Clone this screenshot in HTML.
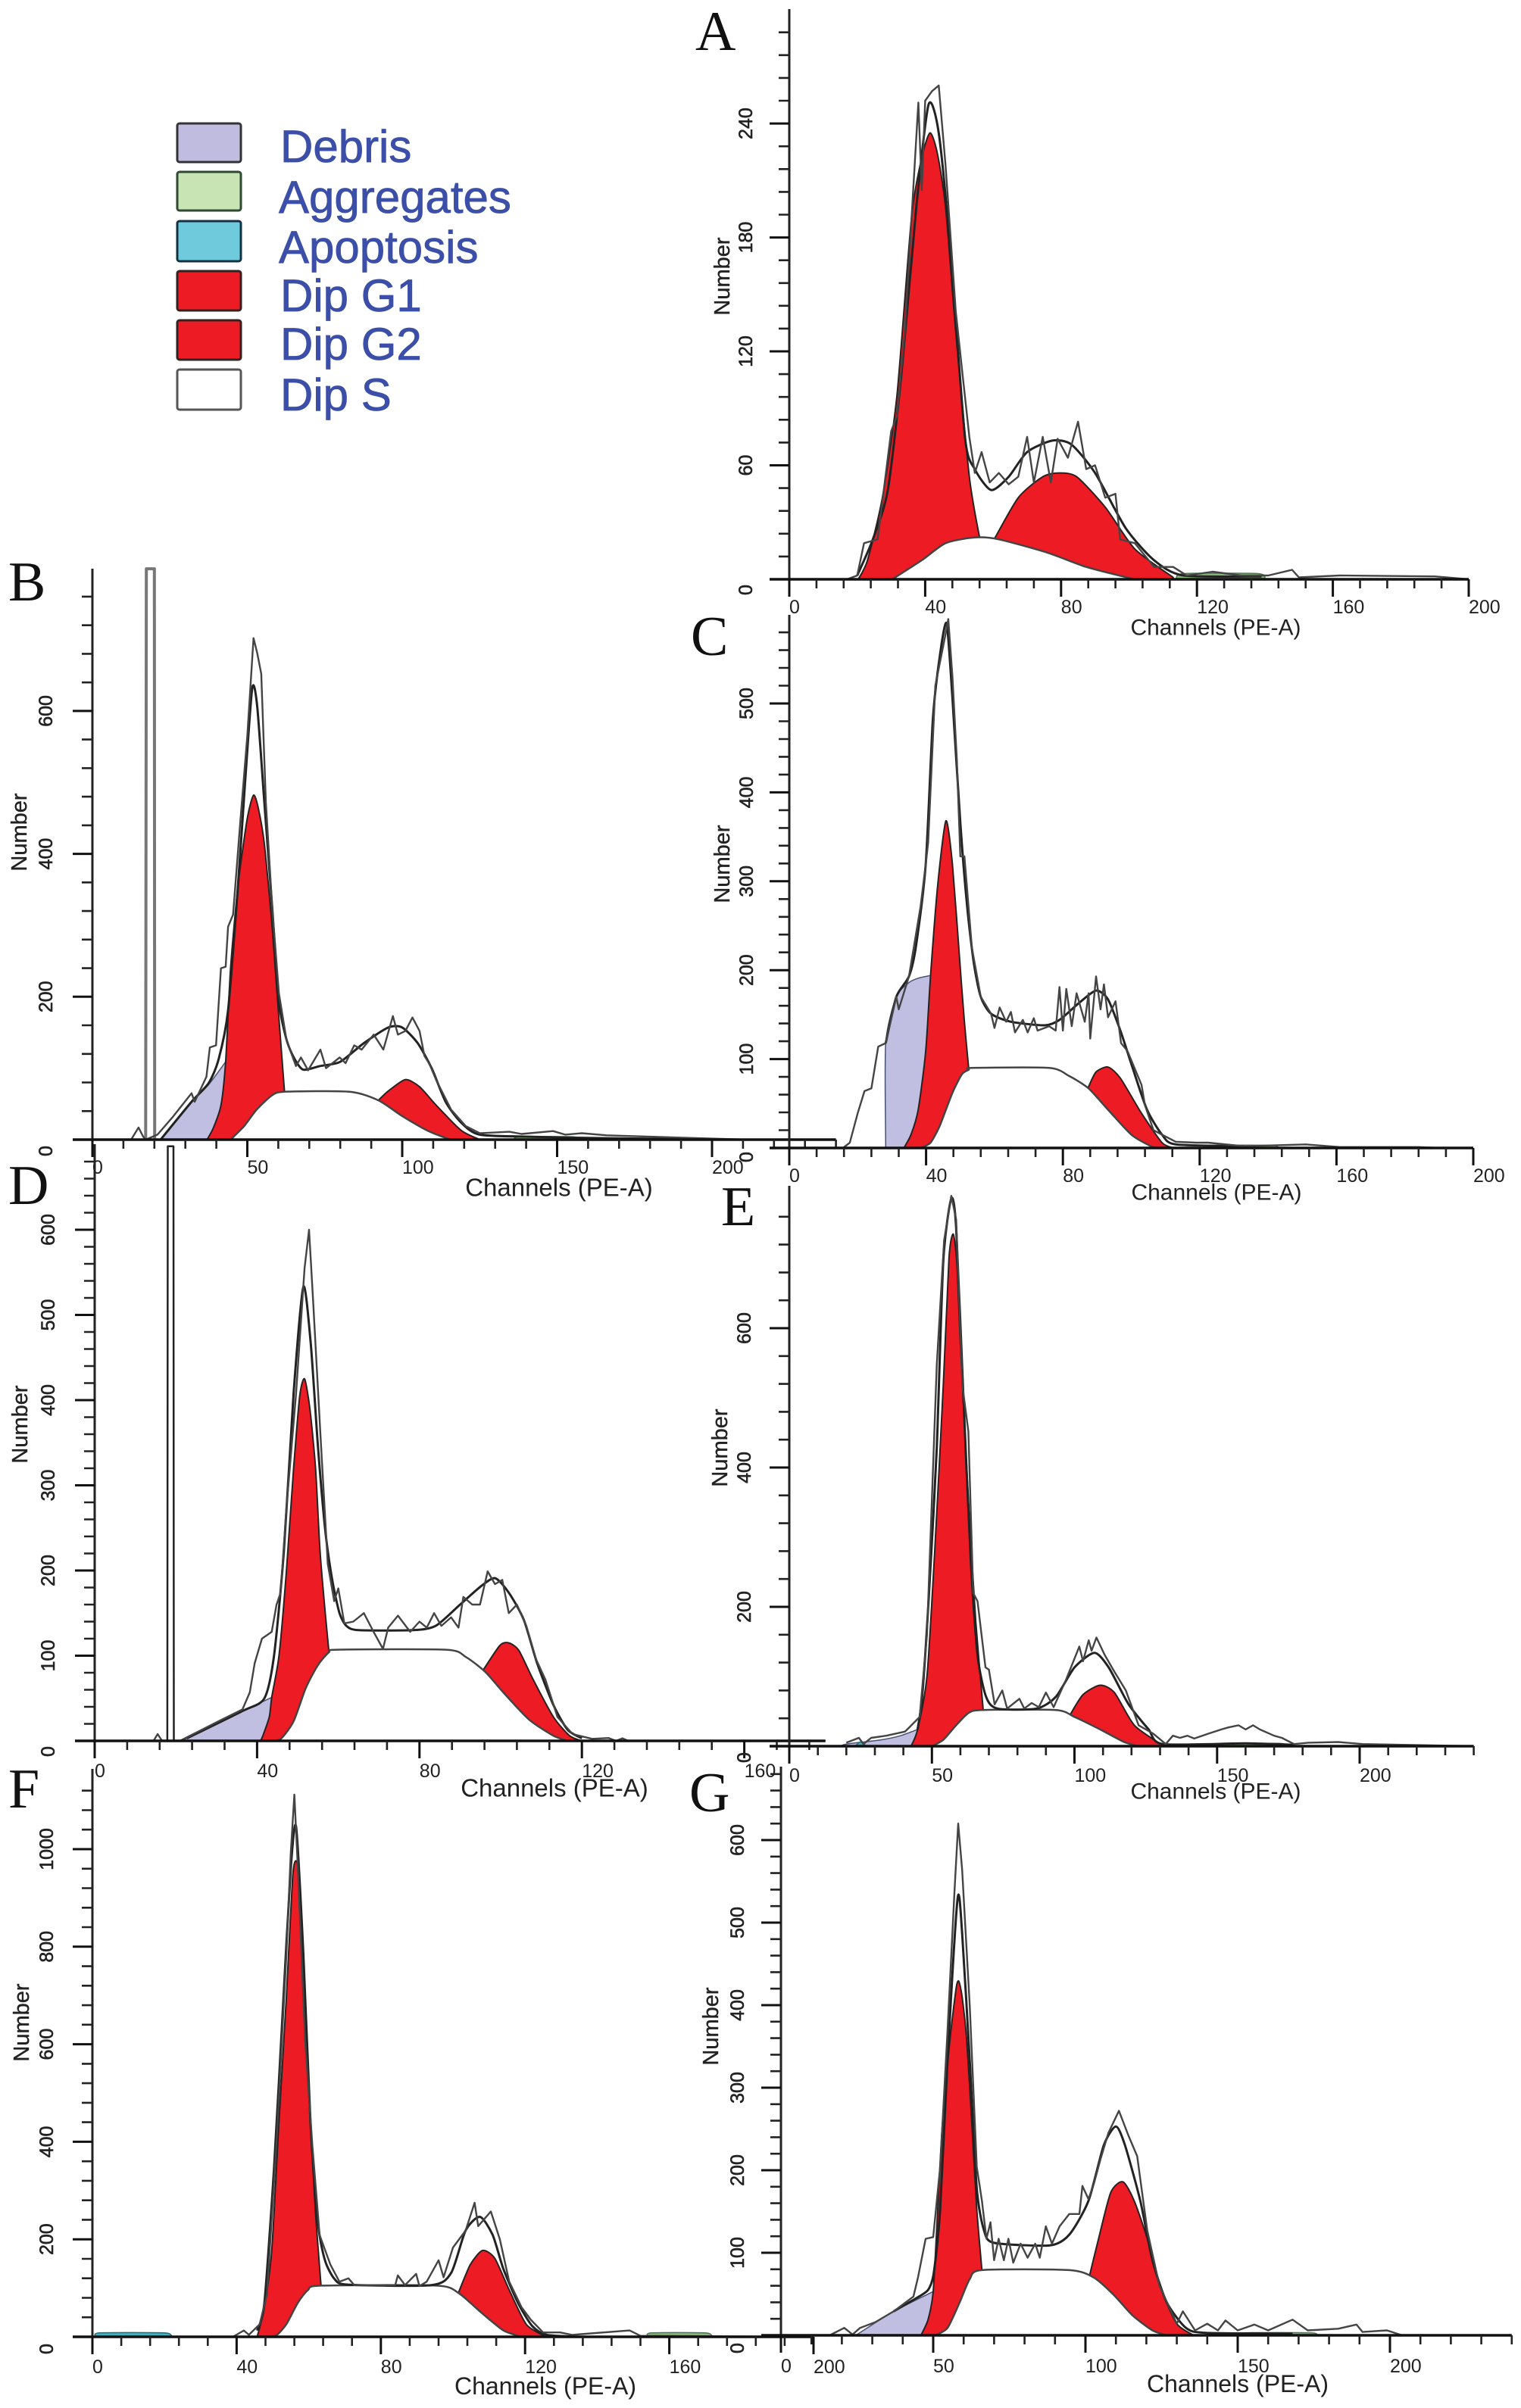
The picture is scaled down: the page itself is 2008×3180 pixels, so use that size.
<!DOCTYPE html>
<html lang="en">
<head>
<meta charset="utf-8">
<title>Cell cycle DNA histograms</title>
<style>
html,body{margin:0;padding:0;background:#fff;}
svg{display:block;}
text{font-family:"Liberation Sans",sans-serif;fill:#222;}
.letter{font-family:"Liberation Serif",serif;fill:#111;font-size:74px;}
.legend-text{fill:#3c4fa8;font-size:60px;stroke:#3c4fa8;stroke-width:.8px;}
.ctitle{font-size:30px;text-anchor:middle;dominant-baseline:central;}
.ntitle{font-size:29px;text-anchor:middle;dominant-baseline:central;stroke:#222;stroke-width:.4px;}
.tick{font-size:25px;dominant-baseline:central;}
.ytick{font-size:25px;text-anchor:middle;dominant-baseline:central;stroke:#222;stroke-width:.6px;}
</style>
</head>
<body>
<svg id="figure" xmlns="http://www.w3.org/2000/svg" width="2008" height="3180" viewBox="0 0 2008 3180">
  <rect width="2008" height="3180" fill="#fff"/>
  <g>
    <rect x="234" y="163" width="84" height="51" rx="3" fill="#bfbce0" stroke="#333" stroke-width="3"/>
    <rect x="234" y="227" width="84" height="51" rx="3" fill="#c8e3b4" stroke="#2f4a33" stroke-width="3"/>
    <rect x="234" y="292" width="84" height="53" rx="3" fill="#6fcbdc" stroke="#134" stroke-width="3"/>
    <rect x="234" y="358" width="84" height="52" rx="3" fill="#ed1c24" stroke="#322" stroke-width="3"/>
    <rect x="234" y="423" width="84" height="52" rx="3" fill="#ed1c24" stroke="#322" stroke-width="3"/>
    <rect x="234" y="488" width="84" height="53" rx="3" fill="#fff" stroke="#555" stroke-width="3"/>
    <text class="legend-text" x="370" y="214">Debris</text>
    <text class="legend-text" x="368" y="281">Aggregates</text>
    <text class="legend-text" x="368" y="347">Apoptosis</text>
    <text class="legend-text" x="370" y="411">Dip G1</text>
    <text class="legend-text" x="370" y="475">Dip G2</text>
    <text class="legend-text" x="370" y="542">Dip S</text>
  </g>
  <g>
    <text class="letter" x="918" y="66">A</text>
    <text class="letter" x="11" y="793">B</text>
    <text class="letter" x="912" y="865">C</text>
    <text class="letter" x="11" y="1590">D</text>
    <text class="letter" x="952" y="1618">E</text>
    <text class="letter" x="11" y="2387">F</text>
    <text class="letter" x="910" y="2392">G</text>
  </g>
  <g id="charts"></g>
  <g>
    <text class="ctitle" x="1605" y="829" style="font-size:30px">Channels (PE-A)</text>
    <text class="ctitle" x="738" y="1568" style="font-size:33px">Channels (PE-A)</text>
    <text class="ctitle" x="1606" y="1575" style="font-size:30px">Channels (PE-A)</text>
    <text class="ctitle" x="732" y="2361" style="font-size:33px">Channels (PE-A)</text>
    <text class="ctitle" x="1605" y="2366" style="font-size:30px">Channels (PE-A)</text>
    <text class="ctitle" x="720" y="3151" style="font-size:32px">Channels (PE-A)</text>
    <text class="ctitle" x="1634" y="3148" style="font-size:32px">Channels (PE-A)</text>
    <text class="ntitle" transform="translate(954 365) rotate(-90)">Number</text>
    <text class="ntitle" transform="translate(26 1099) rotate(-90)">Number</text>
    <text class="ntitle" transform="translate(954 1141) rotate(-90)">Number</text>
    <text class="ntitle" transform="translate(27 1881) rotate(-90)">Number</text>
    <text class="ntitle" transform="translate(951 1912) rotate(-90)">Number</text>
    <text class="ntitle" transform="translate(29 2671) rotate(-90)">Number</text>
    <text class="ntitle" transform="translate(939 2676) rotate(-90)">Number</text>
  </g>
</svg>
<script>
// ---- Panel A data: [channel, count] ----
const panelA_xTicks = [0,40,80,120,160,200];
const panelA_yTicks = [0,60,120,180,240];
const panelA_g1 = [[20.3,0],[23,10],[27.4,43],[31.7,97],[36,191],[39,222],[41.4,235],[43.5,225],[46,196],[49,130],[53,54],[56,22]];
const panelA_g2 = [[60.3,21],[67.4,43],[74.6,54],[79.4,56],[84.6,54],[93,38],[101.7,16],[113,1]];
const panelA_s = [[30.3,0],[39,10],[46,19],[54.6,22],[61.7,21],[76,14],[87.4,6.5],[100,0.7],[102,0]];
const panelA_aggregates = [[114,0],[116,3],[138,3],[140,0]];
const panelA_fit = [[20,2],[24.6,21],[29,47],[33,108],[37.4,196],[41,250],[44,235],[47.4,174],[51.7,75],[54.6,58],[59.4,47],[64.6,54],[70,67],[77.4,73],[83,71],[90,56],[99,27],[107.4,10],[116,2],[139,1.5]];
const panelA_raw = [[17,0],[20,2],[22,19],[26,21],[30,78],[31.7,86],[34,130],[38,251],[39,205],[40,252],[42,257],[44,260],[46,218],[49,141],[51,108],[53,75],[54.6,56],[56.6,67],[59,51],[61.7,56],[64.6,50],[67.4,54],[70,75],[72,51],[74.6,75],[77,51],[79,74],[82,64],[85,83],[87.4,58],[90,60],[93,43],[96,45],[97.4,21],[101.7,19],[107.4,6.5],[113,6.5],[117,2],[124.6,4],[133,2],[141,2],[148,5],[150,1],[162,2],[190,1.5],[200,0]];

// ---- Panel B data ----
const panelB_xTicks = [0,50,100,150,200];
const panelB_yTicks = [0,200,400,600];
const panelB_debris = [[22,0],[26,22],[32,53],[37.5,77],[43,109]];
const panelB_g1 = [[37,0],[39,16],[41.5,48],[43,109],[44.6,240],[47,356],[50,450],[52,482],[53.5,465],[55.5,414],[58,298],[59.5,210],[62,67]];
const panelB_g2 = [[92.3,55],[95.5,68],[101,84],[105.6,74],[111,48],[119,13],[125,0]];
const panelB_s = [[44.6,0],[49,19],[53,42],[58,62],[62,67],[83,67],[92.3,55],[100,33],[108,13],[115,1],[118,0]];
const panelB_aggregates = [[136,0],[138,4],[155,4],[157,0]];
const panelB_gate = [[17.2,0],[17.4,799],[20,799],[20.1,0]];
const panelB_fit = [[22,0],[32,53],[37.5,79],[40.7,112],[43.8,181],[47,356],[49.3,501],[51.6,632],[53.2,606],[55.5,472],[58,327],[60.2,193],[62.6,141],[65,115],[68,98],[73.5,103],[80,109],[87.6,135],[95.5,157],[100,157],[105,135],[109.5,100],[114,53],[119,24],[125,7],[142,4],[166,2],[190,1]];
const panelB_raw = [[12.5,0],[14.9,17],[16.4,4],[17.2,0],[21,7],[26,32],[32,65],[33,53],[36.8,88],[37.9,129],[39.9,132],[41.5,240],[43,242],[43.8,298],[45.4,315],[47.7,443],[50,565],[52,702],[53.2,681],[54.5,652],[56,472],[58,327],[60.2,205],[62.6,141],[64,123],[65.7,103],[67.3,115],[69.6,97],[73.6,126],[75.4,100],[79.8,115],[81.7,107],[84.5,132],[86.9,126],[90.8,147],[93.9,126],[97,173],[98.6,147],[101,152],[103.3,171],[105.6,152],[107.2,117],[108.8,106],[111,83],[115.8,42],[120.5,19],[125,9],[134.6,11],[138.5,8],[148.7,12],[152.6,7],[158,9],[166,6],[195.6,2],[211,0]];

// ---- Panel C data ----
const panelC_xTicks = [0,40,80,120,160,200];
const panelC_yTicks = [0,100,200,300,400,500];
const panelC_debris = [[28.2,0],[28.2,118],[31.3,170],[35,186],[37.7,191],[41.3,194]];
const panelC_g1 = [[33.5,0],[35.6,15],[37.7,43],[39.9,109],[41.3,194],[43.4,296],[45.8,368],[47.7,319],[50,202],[51.2,142],[52.5,88]];
const panelC_g2 = [[87.5,69],[89.7,85.5],[93.2,91],[96.8,78.5],[103,39],[109,6],[112.5,0]];
const panelC_s = [[38.4,0],[41.3,6],[44,25],[47.7,62],[50.5,83],[52.5,88],[53.4,90],[76,90],[81.8,81],[87.5,67],[93.2,43],[100,15],[106,1.5],[108,0]];
const panelC_aggregates = [[121,0],[123,3],[141,3],[143,0]];
const panelC_fit = [[28.2,118],[31.3,170],[35,193],[37,226],[39.9,319],[42,483],[44,553],[46,590],[47.7,506],[50,366],[52,272],[54,207],[56,170],[59,151],[64.8,142],[74.7,138],[79,144],[84.7,163],[89.7,177],[93.2,167],[96.8,132],[100.4,90],[104.6,43],[109,15],[113,4],[133,2]];
const panelC_raw = [[15.7,0],[17.7,6],[20,39],[22,64],[24,67],[26,114],[28.2,118],[31.3,170],[32,156],[35,193],[38.4,272],[39.9,319],[40.6,343],[42.7,520],[45.5,574],[46.5,595],[47.7,530],[49,437],[50,328],[51.2,328],[53.4,225],[56,170],[59,151],[60,135],[61.5,158],[63.4,142],[64.8,153],[66,130],[68.3,144],[69.7,130],[71.5,146],[72.6,132],[76,137],[77.9,132],[79,181],[80,132],[81,179],[82.6,137],[84,174],[86.4,142],[87.5,174],[88,123],[89.7,193],[91,156],[92,184],[93.2,147],[95.4,165],[97,118],[98.9,109],[100.4,95],[103,71],[104,48],[106.5,20],[109,15],[113,7],[119,6],[122.5,6],[133,2],[151,4],[161,1],[184,1],[190,0]];

// ---- Panel D data ----
const panelD_xTicks = [0,40,80,120,160];
const panelD_yTicks = [0,100,200,300,400,500,600];
const panelD_debris = [[21,0],[22.7,3],[30.5,23],[36.4,35],[43.6,51]];
const panelD_g1 = [[40.6,0],[41.2,3.4],[43,28],[43.6,51],[45.4,100],[47.2,198],[49,320],[50.5,405],[51.7,425],[53,390],[54.4,320],[55.5,223],[56.8,150],[57.7,104]];
const panelD_g2 = [[95.8,84],[99.8,112],[102,115],[104.5,106],[108,72],[113,28],[117,6],[120,0]];
const panelD_s = [[44,0],[46,3],[49,23],[52,62],[55,89],[57.7,104],[59.7,107],[86.6,107],[91.4,98.5],[96.2,81],[101,55],[107,25],[113,6],[116.5,0]];
const panelD_gate = [[17.9,0],[18,698],[19.4,698],[19.5,0]];
const panelD_fit = [[22.7,3],[36.4,35],[41.8,50],[44.2,101],[46.6,223],[49,408],[51.4,533],[53.2,467],[55,345],[56.8,247],[58.5,189],[60.3,150],[62,135],[65,130],[78.3,130],[84,135],[90,160],[95,181],[98.6,191],[102,174],[105.7,142],[109,91],[113,42],[116.5,13],[120,3]];
const panelD_raw = [[14.5,0],[15.5,8],[16.6,0],[21,0],[30.5,23],[36.4,37],[38.2,57],[39.4,91],[41.2,120],[43.6,128],[44.8,160],[45.8,174],[47.2,272],[49.6,408],[51.7,555],[52.8,600],[53.8,516],[55.6,360],[57.4,208],[59,164],[60,179],[61.5,138],[63.7,140],[66.3,150],[68.7,128],[71,108],[72.3,133],[74.7,147],[77.7,128],[80,140],[81.8,133],[83.6,150],[85.4,135],[87.8,145],[89.6,133],[90.8,169],[93,160],[94.9,160],[96.8,199],[98.6,184],[100.4,189],[102,150],[104,160],[106.3,135],[108.7,96],[111,72],[114,28],[117.7,8],[122.5,2.4],[126.6,3.4],[128.4,0],[130,3],[131.4,0]];

// ---- Panel E data ----
const panelE_xTicks = [0,50,100,150,200];
const panelE_yTicks = [0,200,400,600];
const panelE_debris = [[18,0],[20,3],[32,9],[39,15],[45,24]];
const panelE_apoptosis = [[23,0],[25,6],[27,0]];
const panelE_g1 = [[42.7,0],[45,24],[48.3,101],[51,280],[54,518],[56,700],[57.5,735],[58.8,690],[60,577],[63,339],[65.4,179],[68,52]];
const panelE_g2 = [[98.6,46],[103,74],[109,87.5],[114,77],[121,30],[131,1]];
const panelE_s = [[50,0],[54,9],[58.5,30],[63,48],[68,52],[93.5,52],[100,42],[109,24],[117.4,6],[122.5,0]];
const panelE_aggregates = [[150,0],[152,3],[172,4],[175,0]];
const panelE_fit = [[45,24],[46.6,71],[49,220],[51.7,428],[54,696],[56.8,786],[58.5,744],[61,506],[63.6,268],[66,131],[69,71],[73,54],[86.7,54],[93.5,71],[100,113],[107,134],[112,113],[119,60],[126,24],[131,3],[160,4],[177,2]];
const panelE_raw = [[20,5],[24.4,12],[26,3],[28.7,12],[34,15],[40.6,21],[45.7,42],[48.3,160],[51.7,547],[54.3,726],[56.8,790],[58.5,756],[60.7,518],[62.8,452],[64.5,220],[66,208],[68.8,113],[70,110],[72,60],[74.7,80],[76.4,54],[80.7,68],[82.4,54],[85,62],[87.5,56],[90,77],[92.7,56],[97,95],[101.7,143],[103,122],[105,152],[106,137],[107.7,156],[110.6,131],[114,107],[118,80],[122.5,30],[127.6,18],[132,3],[134.5,15],[137,12],[139.6,15],[142,11],[147,18],[151.5,24],[154,27],[157.5,30],[160,24],[162.6,30],[165,24],[170,15],[172.7,12],[177,3],[182,5],[192.5,6],[201,3],[240,0]];

// ---- Panel F data ----
const panelF_xTicks = [0,40,80,120,160,200];
const panelF_yTicks = [0,200,400,600,800,1000];
const panelF_apoptosis = [[1,0],[2,8],[20,8],[22,0]];
const panelF_g1 = [[45.7,0],[47.7,61],[49.7,174],[51.7,436],[53.8,697],[55.5,940],[56.5,976],[57.5,930],[58.5,697],[60.5,436],[61.8,262],[63.4,105]];
const panelF_g2 = [[101.5,90],[104.8,148],[108.2,177],[111.6,161],[115.6,96],[120.3,26],[125,3],[126,0]];
const panelF_s = [[48.4,0],[51,3],[53.8,26],[57,70],[59.8,96],[63.4,105],[95.4,105],[101.5,90],[107.5,52],[114,13],[119,0]];
const panelF_aggregates = [[154,0],[155,8],[170,8],[172,0]];
const panelF_fit = [[45.7,13],[47.7,70],[50.4,349],[53,697],[55,959],[56.5,1046],[58.5,785],[60.5,436],[62.5,235],[64.5,157],[67.2,118],[71,107],[94,106],[99.5,131],[103.5,218],[107.5,246],[111,209],[114,139],[118,70],[122,22],[126,4],[135,0]];
const panelF_raw = [[39,0],[42,13],[43.4,4],[46.4,26],[48.4,87],[51,392],[53.8,785],[55,990],[56,1112],[57,959],[59,610],[61,392],[63,209],[66,148],[68.5,113],[71,120],[72.6,106],[84,106],[84.7,126],[86.7,106],[89.8,129],[90.7,104],[92.7,113],[96,157],[97.4,122],[100,183],[103.5,218],[106,275],[107,227],[110.5,257],[113,200],[115.6,113],[119,61],[121.6,35],[125,9],[129.7,9],[133,4],[149,13],[152,2],[200,0]];

// ---- Panel G data ----
const panelG_xTicks = [0,50,100,150,200];
const panelG_yTicks = [0,100,200,300,400,500,600];
const panelG_debris = [[24,0],[25,1],[37,29],[50,53]];
const panelG_g1 = [[46,0],[48.3,19],[50,53],[51.5,153],[53,255],[55.5,358],[57.5,420],[58.4,429],[59.5,410],[61,358],[62.7,255],[64.3,153],[66,79]];
const panelG_g2 = [[101.4,73],[104.3,117],[108.3,173],[112.3,186],[116,163],[120.3,117],[125,55],[130,14],[135.5,0]];
const panelG_s = [[50.7,0],[54.7,9],[58.7,40],[62,68],[66,79],[94.7,79],[102.7,70],[109,50],[115.5,24],[122,6],[126.7,0]];
const panelG_aggregates = [[150,0],[152,3],[174,3],[176,0]];
const panelG_fit = [[37,29],[44,44],[48.3,55],[50.2,76],[52.3,153],[54.7,333],[58,529],[59.5,487],[62,333],[64.3,178],[66.7,127],[70,112],[88.3,109],[94.7,122],[101,163],[106,230],[110,253],[113,230],[118,163],[122,91],[126.7,40],[133,9],[139.5,3],[168,2]];
const panelG_raw = [[16,0],[20.8,9],[23.5,1],[26,9],[31,16],[37,29],[43.5,47],[45,70],[47.5,117],[50,119],[52.3,204],[54.7,369],[57,538],[58.2,620],[59.5,564],[62,400],[64.3,204],[66,163],[67.5,117],[68.8,137],[70,91],[71.5,117],[73.2,91],[74.7,117],[76.3,88],[78.7,111],[81,94],[83.5,111],[85,94],[87,132],[89,111],[91.5,132],[94.7,147],[98,147],[99,181],[101,165],[102.7,183],[105,214],[107.5,245],[111,272],[114,243],[117,217],[120.3,127],[124.3,60],[127.5,34],[130,14],[132,29],[136,6],[140,14],[143.5,6],[146,18],[150,6],[155.5,13],[160,6],[168,19],[173,6],[183,8],[189,13],[191,4],[199,6],[204,0]];

// ---- Layout (axis geometry only) ----
const layout = [
 {id:'a',x0:1042,y0:765,pxCh:4.485,pxCnt:2.508,xMax:200,xMajor:40,xMinor:8,yMajor:60,yMinor:12,top:12,yLabelX:985,xLabelY:802,zeroDy:14,xT:panelA_xTicks,yT:panelA_yTicks,g1:panelA_g1,g2:panelA_g2,s:panelA_s,aggregates:panelA_aggregates,fit:panelA_fit,raw:panelA_raw},
 {id:'b',x0:122,y0:1505,pxCh:4.09,pxCnt:.9435,xMax:240,xMajor:50,xMinor:10,yMajor:200,yMinor:40,top:751,yLabelX:61,xLabelY:1542,zeroDy:15,xT:panelB_xTicks,yT:panelB_yTicks,debris:panelB_debris,g1:panelB_g1,g2:panelB_g2,s:panelB_s,aggregates:panelB_aggregates,gate:panelB_gate,gateColor:'#777',gateWidth:4,fit:panelB_fit,raw:panelB_raw},
 {id:'c',x0:1042,y0:1516,pxCh:4.515,pxCnt:1.174,xMax:200,xMajor:40,xMinor:8,yMajor:100,yMinor:20,top:812,yLabelX:986,xLabelY:1553,zeroDy:12,xT:panelC_xTicks,yT:panelC_yTicks,debris:panelC_debris,g1:panelC_g1,g2:panelC_g2,s:panelC_s,aggregates:panelC_aggregates,fit:panelC_fit,raw:panelC_raw},
 {id:'d',x0:125,y0:2299,pxCh:5.36,pxCnt:1.125,xMax:180,xMajor:40,xMinor:8,yMajor:100,yMinor:20,top:1511,yLabelX:64,xLabelY:2339,zeroDy:14,xT:panelD_xTicks,yT:panelD_yTicks,debris:panelD_debris,g1:panelD_g1,g2:panelD_g2,s:panelD_s,gate:panelD_gate,gateColor:'#222',gateWidth:2.5,fit:panelD_fit,raw:panelD_raw},
 {id:'e',x0:1042,y0:2306,pxCh:3.765,pxCnt:.92,xMax:240,xMajor:50,xMinor:10,yMajor:200,yMinor:40,top:1566,yLabelX:983,xLabelY:2345,zeroDy:15,xT:panelE_xTicks,yT:panelE_yTicks,debris:panelE_debris,apoptosis:panelE_apoptosis,g1:panelE_g1,g2:panelE_g2,s:panelE_s,aggregates:panelE_aggregates,fit:panelE_fit,raw:panelE_raw},
 {id:'f',x0:122,y0:3086,pxCh:4.76,pxCnt:.644,xMax:200,xMajor:40,xMinor:8,yMajor:200,yMinor:40,top:2336,yLabelX:62,xLabelY:3126,zeroDy:16,xT:panelF_xTicks,yT:panelF_yTicks,apoptosis:panelF_apoptosis,g1:panelF_g1,g2:panelF_g2,s:panelF_s,aggregates:panelF_aggregates,fit:panelF_fit,raw:panelF_raw},
 {id:'g',x0:1031,y0:3084,pxCh:4.02,pxCnt:1.09,xMax:240,xMajor:50,xMinor:10,yMajor:100,yMinor:20,top:2333,yLabelX:974,xLabelY:3125,zeroDy:17,xT:panelG_xTicks,yT:panelG_yTicks,debris:panelG_debris,g1:panelG_g1,g2:panelG_g2,s:panelG_s,aggregates:panelG_aggregates,fit:panelG_fit,raw:panelG_raw}
];
const NS = 'http://www.w3.org/2000/svg';
const root = document.getElementById('charts');

function polyPath(pts, sx, sy){
  return pts.map((p,i)=>(i?'L':'M')+sx(p[0]).toFixed(1)+' '+sy(p[1]).toFixed(1)).join(' ');
}
function smoothPath(pts, sx, sy){
  const q = pts.map(p=>[sx(p[0]),sy(p[1])]);
  let d = 'M'+q[0][0].toFixed(1)+' '+q[0][1].toFixed(1);
  for(let i=0;i<q.length-1;i++){
    const a=q[Math.max(i-1,0)],b=q[i],c=q[i+1],e=q[Math.min(i+2,q.length-1)];
    const t=0.12;
    d+=' C'+(b[0]+(c[0]-a[0])*t).toFixed(1)+' '+(b[1]+(c[1]-a[1])*t).toFixed(1)+' '+(c[0]-(e[0]-b[0])*t).toFixed(1)+' '+(c[1]-(e[1]-b[1])*t).toFixed(1)+' '+c[0].toFixed(1)+' '+c[1].toFixed(1);
  }
  return d;
}
function drawArea(g, pts, sx, sy, name, fill, stroke, sw){
  const last = pts[pts.length-1], first = pts[0];
  const el = document.createElementNS(NS,'path');
  el.setAttribute('d', smoothPath(pts,sx,sy)+' L'+sx(last[0]).toFixed(1)+' '+sy(0).toFixed(1)+' L'+sx(first[0]).toFixed(1)+' '+sy(0).toFixed(1)+' Z');
  el.setAttribute('fill', fill);
  el.setAttribute('stroke', stroke);
  el.setAttribute('stroke-width', sw);
  el.setAttribute('stroke-linejoin', 'round');
  
  
  g.appendChild(el);
}
function drawLine(g, d, name, stroke, sw){
  const el = document.createElementNS(NS,'path');
  el.setAttribute('d', d);
  el.setAttribute('fill', 'none');
  el.setAttribute('stroke', stroke);
  el.setAttribute('stroke-width', sw);
  el.setAttribute('stroke-linejoin', 'round');
  
  
  g.appendChild(el);
}
function drawLabel(g, str, x, y, cls, name, rot){
  const el = document.createElementNS(NS,'text');
  el.setAttribute('class', cls);
  if(rot){ el.setAttribute('transform','translate('+x+' '+y+') rotate(-90)'); }
  else { el.setAttribute('x', x); el.setAttribute('y', y); }
  
  
  el.textContent = str;
  g.appendChild(el);
}

layout.forEach(function(p){
  const sx = c => p.x0 + c*p.pxCh;
  const sy = v => p.y0 - v*p.pxCnt;
  const g = document.createElementNS(NS,'g');
  
  
  root.appendChild(g);

  if(p.debris) drawArea(g,p.debris,sx,sy,'debris-area-'+p.id,'#c0bfe2','#4a5070',1.5);
  if(p.apoptosis) drawArea(g,p.apoptosis,sx,sy,'apoptosis-area-'+p.id,'#3fb3c4','#2a6a70',1.5);
  if(p.aggregates) drawArea(g,p.aggregates,sx,sy,'aggregates-area-'+p.id,'#86b878','#55705a',1.5);
  drawArea(g,p.g1,sx,sy,'dip-g1-area-'+p.id,'#ed1c24','#2a2020',2);
  drawArea(g,p.g2,sx,sy,'dip-g2-area-'+p.id,'#ed1c24','#2a2020',2);
  drawArea(g,p.s,sx,sy,'dip-s-area-'+p.id,'#ffffff','#444',2.5);
  if(p.gate) drawLine(g,polyPath(p.gate,sx,sy),'gate-spike-'+p.id,p.gateColor,p.gateWidth);
  drawLine(g,smoothPath(p.fit,sx,sy),'model-fit-line-'+p.id,'#222',3);
  drawLine(g,polyPath(p.raw,sx,sy),'raw-histogram-line-'+p.id,'#444',2.4);

  // axes
  let ax = 'M'+p.x0+' '+p.top+' L'+p.x0+' '+p.y0;
  let bx = 'M'+(p.x0-26)+' '+p.y0+' L'+sx(p.xMax)+' '+p.y0;
  drawLine(g,ax,'y-axis-line-'+p.id,'#222',3);
  drawLine(g,bx,'x-axis-line-'+p.id,'#111',3.5);
  let tk = '', mj = '';
  for(let c=0;c<=p.xMax;c+=p.xMinor){
    const major = c % p.xMajor === 0;
    const s = 'M'+sx(c).toFixed(1)+' '+p.y0+' v'+(major?23:12)+' ';
    if(major) mj += s; else tk += s;
  }
  for(let v=p.yMinor; sy(v)>p.top+4; v+=p.yMinor){
    const major = v % p.yMajor === 0;
    const s = 'M'+p.x0+' '+sy(v).toFixed(1)+' h'+(major?-26:-14)+' ';
    if(major) mj += s; else tk += s;
  }
  drawLine(g,tk,'minor-ticks-'+p.id,'#222',2.6);
  drawLine(g,mj,'major-ticks-'+p.id,'#111',3);
  p.xT.forEach(function(c){
    drawLabel(g,String(c),sx(c),p.xLabelY,'tick','x-tick-label-'+p.id+'-'+c,false);
  });
  p.yT.forEach(function(v){
    drawLabel(g,String(v),p.yLabelX,v===0?sy(0)+p.zeroDy:sy(v),'ytick','y-tick-label-'+p.id+'-'+v,true);
  });
});
</script>
</body>
</html>
